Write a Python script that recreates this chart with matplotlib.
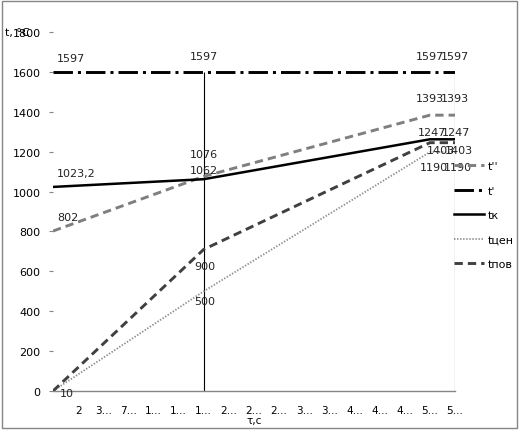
import matplotlib
matplotlib.use("Agg")
import matplotlib.pyplot as plt
from matplotlib.patches import Rectangle

plt.rcParams["font.family"] = ["Liberation Sans Narrow", "DejaVu Sans"]
plt.rcParams["lines.scale_dashes"] = False

# positions along the time axis (category index)
u = [0, 6, 15, 16]
x_ticklabels = ["2", "3…", "7…", "1…", "1…", "1…", "2…", "2…", "2…",
                "3…", "3…", "4…", "4…", "4…", "5…", "5…"]
minor_ticks = [2, 3, 4, 5, 7, 11, 12, 16]
vlines_at = [6, 16]

t2 = [802, 1076, 1383, 1383]          # t''
t1 = [1597, 1597, 1597, 1597]         # t'
tk = [1023.2, 1062, 1262, 1262]
tcen = [0, 500, 1198, 1198]
tpov = [0, 710, 1245, 1245]

lab_t2 = ["802", "1076", "1393", "1393"]
lab_t1 = ["1597", "1597", "1597", "1597"]
lab_tk = ["1023,2", "1062", "1247", "1247"]
lab_tcen = ["", "500", "1190", "1190"]
lab_tpov = ["10", "900", "1403", "1403"]

W, H = 519, 431
fig = plt.figure(figsize=(W / 100, H / 100), dpi=100)
ax = fig.add_axes([53 / W, 1 - 392 / H, (455 - 53) / W, (392 - 33) / H])
ax.set_xlim(0, 16)
ax.set_ylim(0, 1800)

ax.vlines(vlines_at, 0, 1597, color="black", lw=0.8, zorder=1)

l_t2, = ax.plot(u, t2, color="#7f7f7f", lw=2.1, ls=(0, (6, 3.6)), label="t''", zorder=3)
l_t1, = ax.plot(u, t1, color="black", lw=2.1, ls=(0, (14, 3.6, 2.2, 3.6)), label="t'", zorder=3)
l_tk, = ax.plot(u, tk, color="black", lw=1.8, label="tк", zorder=4)
l_tc, = ax.plot(u, tcen, color="#8c8c8c", lw=1.3, ls=(0, (1, 1.2)), label="tцен", zorder=3)
l_tp, = ax.plot(u, tpov, color="#404040", lw=2.1, ls=(0, (6, 3.6)), label="tпов", zorder=3)

fs = 8


def put(series, labels, offsets):
    for xi, yi, s, (dx, dy, ha) in zip(u, series, labels, offsets):
        if s:
            ax.annotate(s, (xi, yi), xytext=(dx, dy), textcoords="offset pixels",
                        ha=ha, va="center", fontsize=fs, color="#222222", zorder=5)


put(t1, lab_t1, [(4, 14, "left"), (0, 16, "center"), (0, 16, "center"), (0, 16, "center")])
put(t2, lab_t2, [(4, 14, "left"), (0, 22, "center"), (0, 17, "center"), (0, 17, "center")])
put(tk, lab_tk, [(4, 14, "left"), (0, 9, "center"), (2, 7, "center"), (1, 7, "center")])
put(tpov, lab_tpov, [(7, -2, "left"), (1, -17, "center"), (11, -7, "center"), (4, -7, "center")])
put(tcen, lab_tcen, [(4, -8, "left"), (1, -10, "center"), (4, -15, "center"), (3, -15, "center")])

# axes styling
for side in ("top", "right", "left"):
    ax.spines[side].set_visible(False)
ax.spines["bottom"].set_color("#868686")
ax.spines["bottom"].set_linewidth(1.0)

ax.set_yticks(range(0, 1801, 200))
ax.tick_params(axis="y", length=3, width=0.8, color="#868686", pad=6, labelsize=fs)
ax.set_xticks(range(1, 17))
ax.set_xticklabels(x_ticklabels)
ax.tick_params(axis="x", which="major", length=0, pad=10, labelsize=fs - 0.5)
ax.set_xticks(minor_ticks, minor=True)
ax.tick_params(axis="x", which="minor", length=5, width=0.8, color="#868686", direction="inout")

fig.text(254 / W, 1 - 421 / H, "τ,с", ha="center", va="center", fontsize=fs - 0.5)
fig.text(5 / W, 1 - 33 / H, "t, °C", ha="left", va="center", fontsize=fs)

ax.legend(handles=[l_t2, l_t1, l_tk, l_tc, l_tp], loc="center left",
          bbox_to_anchor=(454 / W, 1 - 216 / H), bbox_transform=fig.transFigure,
          frameon=False, fontsize=fs, handlelength=2.7, handletextpad=0.35,
          labelspacing=1.3, borderpad=0, borderaxespad=0)

fig.patches.append(Rectangle((2 / W, 2 / H), 515 / W, 427 / H, transform=fig.transFigure,
                             fill=False, edgecolor="#868686", lw=1.0))

fig.savefig("out.png", dpi=100)
